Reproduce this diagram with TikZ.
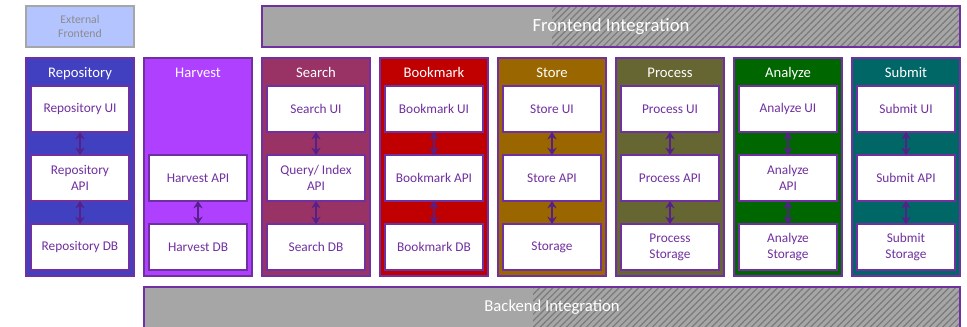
\documentclass[tikz,border=0pt]{standalone}
\usepackage{fontspec}
\setmainfont{Carlito}
\usetikzlibrary{arrows.meta,patterns.meta}

\definecolor{boxpurple}{HTML}{7030A0}
\definecolor{linkpurple}{HTML}{55208A}
\definecolor{bargray}{HTML}{A6A6A6}
\definecolor{stripegray}{HTML}{7A7A7A}
\definecolor{extblue}{HTML}{B4C4FF}
\definecolor{extgray}{HTML}{A6A6A6}
\definecolor{exttext}{HTML}{8C8C8C}
\definecolor{repoc}{HTML}{4040C0}
\definecolor{harvc}{HTML}{B040FF}
\definecolor{searchc}{HTML}{993366}
\definecolor{bookc}{HTML}{C00000}
\definecolor{storec}{HTML}{996600}
\definecolor{procc}{HTML}{666633}
\definecolor{anac}{HTML}{006600}
\definecolor{subc}{HTML}{006666}

\tikzset{
  column/.style={draw=boxpurple, line width=1pt, minimum width=81pt, minimum height=163.5pt, inner sep=0pt, outer sep=0pt},
  coltitle/.style={anchor=base, text=white, font=\fontsize{11}{13}\selectfont},
  part/.style={draw=boxpurple, fill=white, line width=0.8pt, minimum width=73.5pt, minimum height=34.5pt, inner sep=0pt, outer sep=0pt, align=center, text=boxpurple, font=\fontsize{10}{12}\selectfont},
  link/.style={{Stealth[length=5.5pt,width=7pt]}-{Stealth[length=5.5pt,width=7pt]}, line width=1.2pt, draw=linkpurple, fill=linkpurple},
  bar/.style={draw=boxpurple, fill=bargray, line width=1pt, minimum height=30.75pt, inner sep=0pt, text=white},
  hatch/.style={pattern={Lines[angle=45,distance=3.5pt,line width=0.9pt]}, pattern color=stripegray}
}

\begin{document}
\begin{tikzpicture}[x=0.75pt,y=0.75pt,yscale=-1,xscale=1]
\useasboundingbox (0,0) rectangle (967,326);

% top row
\node[draw=extgray, fill=extblue, line width=1.2pt, minimum width=81pt, minimum height=30.75pt, inner sep=0pt, align=center, text=exttext, font=\fontsize{8.8}{10.5}\selectfont] (ext) at (80,26.5) {External\\Frontend};

\node[bar, minimum width=523.5pt, font=\fontsize{14}{16}\selectfont, path picture={\fill[hatch] ([xshift=217.5pt]path picture bounding box.south west) rectangle (path picture bounding box.north east);}] (front) at (611,26.5) {Frontend Integration};

% services
\foreach \i/\id/\ttl/\col/\ui/\api/\db in {
  0/repo/Repository/repoc/Repository UI/{Repository\\API}/Repository DB,
  2/search/Search/searchc/Search UI/{Query/ Index\\API}/Search DB,
  3/book/Bookmark/bookc/Bookmark UI/Bookmark API/Bookmark DB,
  4/store/Store/storec/Store UI/Store API/Storage,
  5/proc/Process/procc/Process UI/Process API/{Process\\Storage},
  6/ana/Analyze/anac/Analyze UI/{Analyze\\API}/{Analyze\\Storage},
  7/sub/Submit/subc/Submit UI/Submit API/{Submit\\Storage}}{
  \node[column, fill=\col] (\id) at (80+118*\i,167) {};
  \node[coltitle] (\id-t) at (80+118*\i,77.5) {\ttl};
  \node[part] (\id-ui) at (80+118*\i,109) {\ui};
  \node[part] (\id-api) at (80+118*\i,178) {\api};
  \node[part] (\id-db) at (80+118*\i,247) {\db};
  \draw[link] (\id-ui) -- (\id-api);
  \draw[link] (\id-api) -- (\id-db);
}

% harvest has no UI
\node[column, fill=harvc] (harv) at (198,167) {};
\node[coltitle] (harv-t) at (198,77.5) {Harvest};
\node[part] (harv-api) at (198,178) {Harvest API};
\node[part] (harv-db) at (198,247) {Harvest DB};
\draw[link] (harv-api) -- (harv-db);

% bottom row
\node[bar, minimum width=612pt, font=\fontsize{12.5}{15}\selectfont, path picture={\fill[hatch] ([xshift=291.75pt]path picture bounding box.south west) rectangle (path picture bounding box.north east);}] (back) at (552,307.5) {Backend Integration};

\end{tikzpicture}
\end{document}
